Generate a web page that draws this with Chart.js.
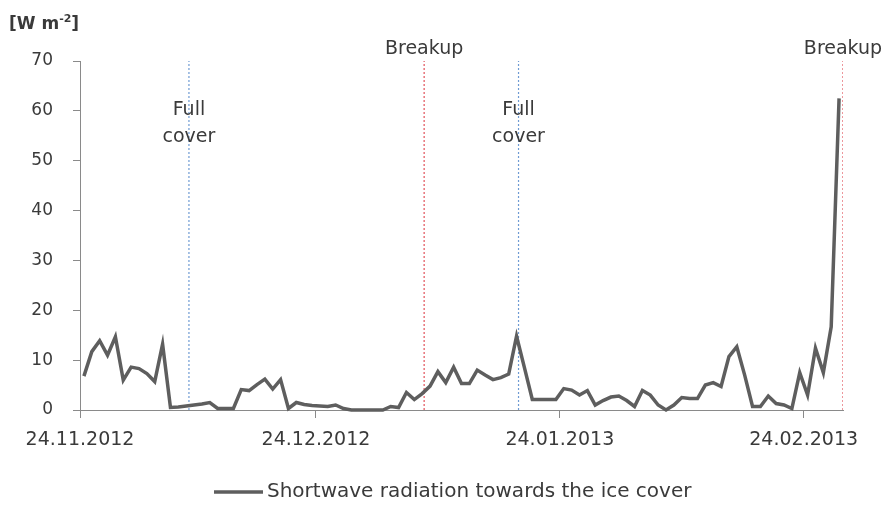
<!DOCTYPE html>
<html>
<head>
<meta charset="utf-8">
<script src="https://cdn.jsdelivr.net/npm/chart.js@4/dist/chart.umd.min.js"></script>
<style>
  html, body { margin: 0; padding: 0; background: #fff; }
  #wrap { width: 885px; height: 506px; position: relative; }
</style>
</head>
<body>
<div id="wrap"><canvas id="radiation"></canvas></div>
<script>
// daily values [W m-2], first day = 24.11.2012
const radiation = [
  6.8, 11.7, 13.9, 11.0, 14.7, 6.0, 8.6, 8.3, 7.3, 5.7,
  13.2, 0.5, 0.6, 0.8, 1.0, 1.2, 1.5, 0.3, 0.3, 0.3,
  4.1, 3.9, 5.1, 6.2, 4.2, 6.1, 0.3, 1.5, 1.1, 0.9,
  0.8, 0.7, 1.0, 0.3, 0, 0, 0, 0, 0, 0.7,
  0.5, 3.5, 2.1, 3.3, 4.8, 7.7, 5.5, 8.6, 5.3, 5.3,
  8.0, 7.0, 6.1, 6.5, 7.2, 14.8, 8.5, 2.1, 2.1, 2.1,
  2.1, 4.3, 4.0, 3.0, 3.9, 1.0, 1.9, 2.6, 2.8, 1.9,
  0.7, 3.9, 3.0, 1.0, 0, 1.0, 2.5, 2.3, 2.3, 5.0,
  5.5, 4.7, 10.7, 12.7, 7.0, 0.7, 0.7, 2.8, 1.3, 1.0,
  0.3, 7.5, 3.0, 12.4, 7.5, 16.7, 62.5
];
const totalDays = 97;

// x axis labels (day offset from 24.11.2012)
const tickDays = [0, 30, 61, 92];
const tickLabels = ['24.11.2012', '24.12.2012', '24.01.2013', '24.02.2013'];

// ice events (day offset)
const eventDays = [13.85, 43.75, 55.75, 97];
const eventNames = [['Full', 'cover'], ['Breakup'], ['Full', 'cover'], ['Breakup']];

const seriesName = 'Shortwave radiation towards the ice cover';

const FONT = '"DejaVu Sans", sans-serif';
const TEXT = '#3a3a3a';
const AXIS = '#8a8a8a';
const LINE = '#5e5e5e';

const eventSets = eventDays.map((d, i) => ({
  label: eventNames[i].join(' '),
  data: [{x: d, y: 0}, {x: d, y: 70}],
  borderColor: eventNames[i][0] === 'Breakup' ? '#e2525a' : '#6f9bd3',
  borderWidth: 1.2,
  borderDash: [2, 2],
  pointRadius: 0
}));

// texts that are not axes: unit, event names, legend
const extraText = {
  id: 'extraText',
  afterDatasetsDraw(chart) {
    const {ctx, scales: {x, y}} = chart;
    ctx.save();
    ctx.fillStyle = TEXT;

    // event names
    ctx.font = '19px ' + FONT;
    ctx.textAlign = 'center';
    ctx.textBaseline = 'alphabetic';
    eventDays.forEach((d, i) => {
      const px = x.getPixelForValue(d);
      const lines = eventNames[i];
      if (lines.length === 1) {
        ctx.fillText(lines[0], px, y.getPixelForValue(71.4));
      } else {
        ctx.fillText(lines[0], px, y.getPixelForValue(59.2));
        ctx.fillText(lines[1], px, y.getPixelForValue(53.8));
      }
    });

    // unit
    ctx.textAlign = 'left';
    ctx.font = 'bold 17px ' + FONT;
    let ux = 9;
    ctx.fillText('[W m', ux, 29);
    ux += ctx.measureText('[W m').width;
    ctx.font = 'bold 11px ' + FONT;
    ctx.fillText('-2', ux, 22);
    ux += ctx.measureText('-2').width;
    ctx.font = 'bold 17px ' + FONT;
    ctx.fillText(']', ux, 29);

    // legend
    ctx.strokeStyle = LINE;
    ctx.lineWidth = 3.5;
    ctx.beginPath();
    ctx.moveTo(214, 492);
    ctx.lineTo(263, 492);
    ctx.stroke();
    ctx.font = '20px ' + FONT;
    ctx.textBaseline = 'middle';
    ctx.fillText(seriesName, 267, 492);
    ctx.restore();
  }
};

const ctx_rad = document.querySelector('#radiation');

new Chart(ctx_rad, {
  type: 'line',
  data: {
    datasets: [
      {
        label: seriesName,
        data: radiation.map((v, i) => ({x: i + 0.5, y: v})),
        borderColor: LINE,
        borderWidth: 3.5,
        pointRadius: 0,
        tension: 0,
        clip: false
      },
      ...eventSets
    ]
  },
  options: {
    responsive: true,
    maintainAspectRatio: false,
    animation: false,
    layout: {padding: {left: 0, right: 42, top: 61, bottom: 0}},
    plugins: {
      legend: {display: false},
      tooltip: {enabled: false}
    },
    scales: {
      x: {
        type: 'linear',
        min: 0,
        max: totalDays,
        afterBuildTicks: (scale) => { scale.ticks = tickDays.map(v => ({value: v})); },
        afterFit: (scale) => { scale.height = 96; },
        ticks: {
          autoSkip: false,
          maxRotation: 0,
          padding: 11,
          color: TEXT,
          font: {family: FONT, size: 19},
          callback: (v) => tickLabels[tickDays.indexOf(v)]
        },
        grid: {drawOnChartArea: false, tickLength: 8, color: AXIS},
        border: {color: AXIS, width: 1}
      },
      y: {
        min: 0,
        max: 70,
        afterFit: (scale) => { scale.width = 80; },
        ticks: {
          stepSize: 10,
          padding: 20,
          color: TEXT,
          font: {family: FONT, size: 17}
        },
        grid: {drawOnChartArea: false, tickLength: 7, color: AXIS},
        border: {color: AXIS, width: 1}
      }
    }
  },
  plugins: [extraText]
});
</script>
</body>
</html>
